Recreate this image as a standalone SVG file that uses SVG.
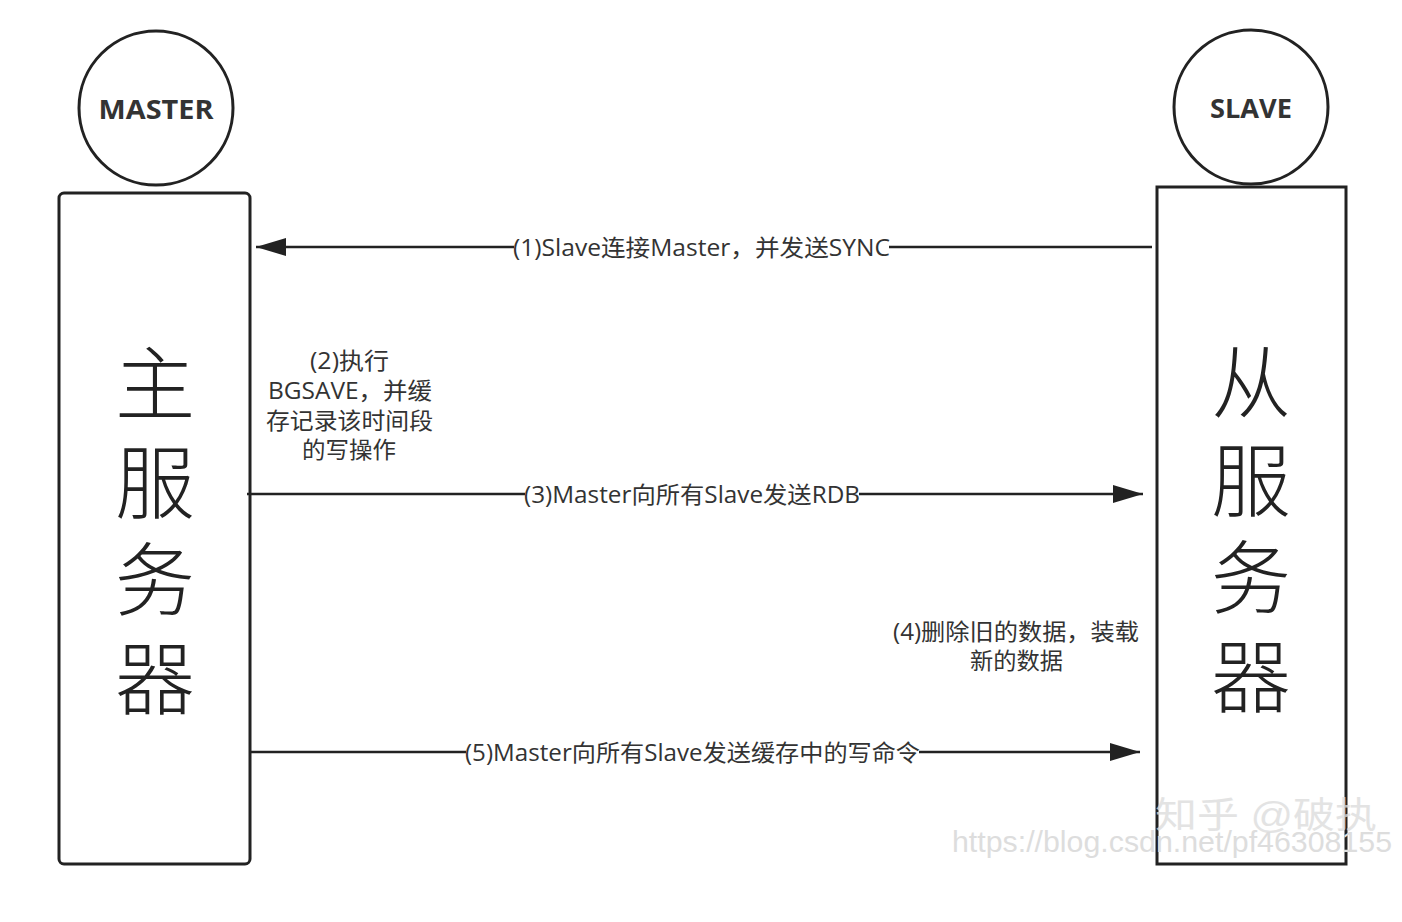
<svg xmlns="http://www.w3.org/2000/svg" width="1402" height="922" viewBox="0 0 1402 922">
<defs>
<style>
.shape{fill:#fff;stroke:#222;stroke-width:3}
.line{stroke:#222;stroke-width:2.5;fill:none}
.title{font-family:"Open Sans","Noto Sans","Noto Sans CJK SC",sans-serif;font-weight:bold;font-size:27px;fill:#333;text-anchor:middle;dominant-baseline:central}
.big{font-family:"Noto Sans CJK SC",sans-serif;font-weight:300;font-size:80px;fill:#222;text-anchor:middle;dominant-baseline:central}
.lbl{font-family:"Open Sans","Noto Sans CJK SC",sans-serif;font-size:23px;fill:#333;text-anchor:middle;dominant-baseline:central}
.wm{font-family:"Liberation Sans","Noto Sans CJK SC",sans-serif;fill:#ddd}
</style>
<marker id="ah" viewBox="0 0 30 20" refX="30" refY="10" markerWidth="30" markerHeight="20" markerUnits="userSpaceOnUse" orient="auto">
<path d="M0,1 L30,10 L0,19 z" fill="#222"/>
</marker>
</defs>
<rect width="1402" height="922" fill="#fff"/>
<g id="master">
<circle class="shape" cx="156" cy="108" r="77"/>
<text class="title" x="156" y="108" textLength="115" lengthAdjust="spacingAndGlyphs">MASTER</text>
<rect class="shape" x="59" y="193" width="191" height="671" rx="5"/>
<text class="big" x="155" y="378">主</text>
<text class="big" x="155" y="477">服</text>
<text class="big" x="155" y="574">务</text>
<text class="big" x="155" y="673">器</text>
</g>
<g id="slave">
<circle class="shape" cx="1251" cy="107" r="77"/>
<text class="title" x="1251" y="107" textLength="82" lengthAdjust="spacingAndGlyphs">SLAVE</text>
<rect class="shape" x="1157" y="187" width="189" height="677"/>
<text class="big" x="1251" y="376">从</text>
<text class="big" x="1251" y="475">服</text>
<text class="big" x="1251" y="572">务</text>
<text class="big" x="1251" y="671">器</text>
</g>
<g id="connectors">
<line class="line" x1="1152" y1="247" x2="256" y2="247" marker-end="url(#ah)"/>
<line class="line" x1="247" y1="494" x2="1143" y2="494" marker-end="url(#ah)"/>
<line class="line" x1="251" y1="752" x2="1140" y2="752" marker-end="url(#ah)"/>
</g>
<g id="labels">
<rect x="514" y="232" width="375" height="30" fill="#fff"/>
<text class="lbl" x="701.5" y="247" textLength="377" lengthAdjust="spacingAndGlyphs">(1)Slave连接Master，并发送SYNC</text>
<text class="lbl" x="349.5" y="360" textLength="79" lengthAdjust="spacingAndGlyphs">(2)执行</text>
<text class="lbl" x="350" y="390" textLength="164" lengthAdjust="spacingAndGlyphs">BGSAVE，并缓</text>
<text class="lbl" x="349.5" y="420" textLength="167" lengthAdjust="spacingAndGlyphs">存记录该时间段</text>
<text class="lbl" x="349" y="449" textLength="94" lengthAdjust="spacingAndGlyphs">的写操作</text>
<rect x="525" y="479" width="334" height="30" fill="#fff"/>
<text class="lbl" x="692" y="494" textLength="336" lengthAdjust="spacingAndGlyphs">(3)Master向所有Slave发送RDB</text>
<text class="lbl" x="1016" y="631" textLength="246" lengthAdjust="spacingAndGlyphs">(4)删除旧的数据，装载</text>
<text class="lbl" x="1016.5" y="660" textLength="93" lengthAdjust="spacingAndGlyphs">新的数据</text>
<rect x="466" y="737" width="453" height="30" fill="#fff"/>
<text class="lbl" x="692.5" y="752" textLength="455" lengthAdjust="spacingAndGlyphs">(5)Master向所有Slave发送缓存中的写命令</text>
</g>
<g id="watermark">
<text class="wm" x="1155" y="828" font-size="36" fill="#ccc" opacity="0.8" textLength="222" lengthAdjust="spacingAndGlyphs">知乎 @破执</text>
<text class="wm" x="952" y="852" font-size="29" textLength="440" lengthAdjust="spacingAndGlyphs">https://blog.csdn.net/pf46308155</text>
</g>
</svg>
